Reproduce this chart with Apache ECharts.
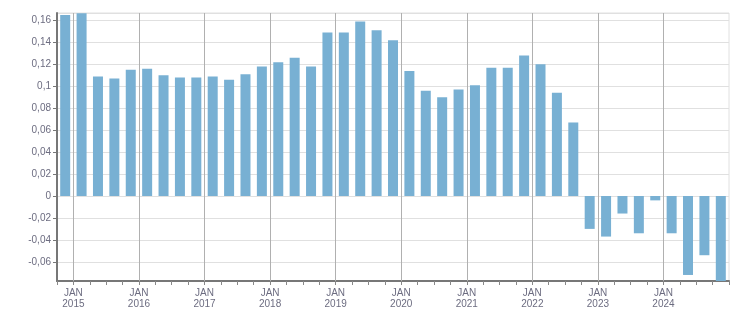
<!DOCTYPE html>
<html>
<head>
<meta charset="utf-8">
<script src="https://cdn.jsdelivr.net/npm/echarts@6/dist/echarts.min.js"></script>
<style>
html,body{margin:0;padding:0;background:#fff;}
#chart{width:751px;height:313px;}
</style>
</head>
<body>
<div id="chart"></div>
<script>
const quarters = [
  '2014 Q4',
  '2015 Q1','2015 Q2','2015 Q3','2015 Q4',
  '2016 Q1','2016 Q2','2016 Q3','2016 Q4',
  '2017 Q1','2017 Q2','2017 Q3','2017 Q4',
  '2018 Q1','2018 Q2','2018 Q3','2018 Q4',
  '2019 Q1','2019 Q2','2019 Q3','2019 Q4',
  '2020 Q1','2020 Q2','2020 Q3','2020 Q4',
  '2021 Q1','2021 Q2','2021 Q3','2021 Q4',
  '2022 Q1','2022 Q2','2022 Q3','2022 Q4',
  '2023 Q1','2023 Q2','2023 Q3','2023 Q4',
  '2024 Q1','2024 Q2','2024 Q3','2024 Q4'
];
const values = [
  0.165,
  0.1665, 0.109, 0.107, 0.115,
  0.116, 0.110, 0.108, 0.108,
  0.109, 0.106, 0.111, 0.118,
  0.122, 0.126, 0.118, 0.149,
  0.149, 0.159, 0.151, 0.142,
  0.114, 0.096, 0.090, 0.097,
  0.101, 0.117, 0.117, 0.128,
  0.120, 0.094, 0.067, -0.030,
  -0.037, -0.016, -0.034, -0.004,
  -0.034, -0.072, -0.054, -0.079
];
const yearLines = [2015, 2016, 2017, 2018, 2019, 2020, 2021, 2022, 2023, 2024];
const yTickLabels = ['-0,06','-0,04','-0,02','0','0,02','0,04','0,06','0,08','0,1','0,12','0,14','0,16'];

function quarterToX(q) {
  const parts = q.split(' Q');
  return Number(parts[0]) + (Number(parts[1]) - 1) * 0.25 + 0.125;
}
const barData = quarters.map((q, i) => [quarterToX(q), values[i]]);

const labelColor = '#6c6c80';
const font = '"Liberation Sans", Arial, sans-serif';

const chart = echarts.init(document.getElementById('chart'), null, {renderer: 'canvas'});
chart.setOption({
  animation: false,
  backgroundColor: '#ffffff',
  grid: {left: 57, right: 22, top: 13, bottom: 32, show: true, borderColor: '#e0e0e0', borderWidth: 1},
  xAxis: {
    type: 'value',
    min: 2014.75,
    max: 2025,
    interval: 0.25,
    axisLine: {show: true, onZero: false, lineStyle: {color: '#777777', width: 2}},
    axisTick: {show: true, length: 4, lineStyle: {color: '#888888'}},
    splitLine: {show: false},
    axisLabel: {
      margin: 7,
      color: labelColor,
      fontFamily: font,
      fontSize: 10,
      lineHeight: 11,
      formatter: function (v) {
        const r = Math.round(v);
        if (Math.abs(v - r) > 1e-6 || r >= 2025) return '';
        return 'JAN\n' + r;
      }
    }
  },
  yAxis: {
    type: 'value',
    min: -0.0775,
    max: 0.1668,
    minInterval: 0.02,
    maxInterval: 0.02,
    axisLine: {show: true, lineStyle: {color: '#777777', width: 2}},
    axisTick: {show: true, length: 4, lineStyle: {color: '#777777'}},
    splitLine: {show: true, lineStyle: {color: '#e0e0e0', width: 1}},
    axisLabel: {
      margin: 6,
      color: labelColor,
      fontFamily: font,
      fontSize: 10,
      showMinLabel: false,
      showMaxLabel: false,
      formatter: function (v) {
        const r = Math.round(v * 100) / 100;
        if (Math.abs(v - r) > 1e-6) return '';
        const s = (Math.abs(r) < 1e-9 ? '0' : String(r).replace('.', ','));
        return yTickLabels.indexOf(s) >= 0 ? s : '';
      }
    }
  },
  series: [{
    type: 'bar',
    data: barData,
    barWidth: 10,
    clip: true,
    itemStyle: {color: '#78b0d3'},
    markLine: {
      silent: true,
      symbol: ['none', 'none'],
      label: {show: false},
      lineStyle: {color: '#b0b0b0', width: 1, type: 'solid'},
      emphasis: {disabled: true},
      data: yearLines.map(y => ({xAxis: y}))
    }
  }]
});
</script>
</body>
</html>
